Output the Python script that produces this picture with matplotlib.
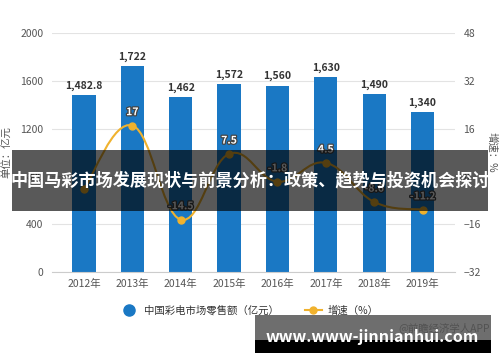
import numpy as np
import matplotlib
matplotlib.use('Agg')
import matplotlib.pyplot as plt
import matplotlib.patheffects as pe
from matplotlib.path import Path
from matplotlib.patches import PathPatch, Rectangle
from matplotlib.lines import Line2D

plt.rcParams['font.family'] = ['Noto Sans CJK SC', 'DejaVu Sans']

years = ['2012年', '2013年', '2014年', '2015年', '2016年', '2017年', '2018年', '2019年']
sales = [1482.8, 1722, 1462, 1572, 1560, 1630, 1490, 1340]
sales_labels = ['1,482.8', '1,722', '1,462', '1,572', '1,560', '1,630', '1,490', '1,340']
growth = [-4.3, 17, -14.5, 7.5, -1.8, 4.5, -8.6, -11.2]
growth_labels = ['', '17', '-14.5', '7.5', '-1.8', '4.5', '-8.6', '-11.2']

bar_color = '#1a78c4'
line_color = '#f0b22e'
tick_color = '#555555'


def smooth_path(xs, ys, k=0.2):
  # cubic bezier segments through the points
  verts = [(xs[0], ys[0])]
  codes = [Path.MOVETO]
  n = len(xs)
  for i in range(n - 1):
    p0 = (xs[max(i - 1, 0)], ys[max(i - 1, 0)])
    p1 = (xs[i], ys[i])
    p2 = (xs[i + 1], ys[i + 1])
    p3 = (xs[min(i + 2, n - 1)], ys[min(i + 2, n - 1)])
    c1 = (p1[0] + (p2[0] - p0[0]) * k, p1[1] + (p2[1] - p0[1]) * k)
    c2 = (p2[0] - (p3[0] - p1[0]) * k, p2[1] - (p3[1] - p1[1]) * k)
    verts += [c1, c2, p2]
    codes += [Path.CURVE4] * 3
  return Path(verts, codes)


fig = plt.figure(figsize=(5, 3.62), dpi=100)
ax = fig.add_axes([0.104, 0.249, 0.806, 0.66])
ax2 = ax.twinx()

x = np.arange(len(years))
ax.bar(x, sales, width=0.48, color=bar_color, zorder=2)
for xi, v, s in zip(x, sales, sales_labels):
  ax.annotate(s, (xi, v), xytext=(0, 3), textcoords='offset points',
              ha='center', va='bottom', fontsize=7.5, fontweight='bold',
              color='#333333')

ax.set_ylim(0, 2000)
ax.set_yticks(range(0, 2001, 400))
ax.set_xlim(-0.66, 7.67)
ax.set_xticks(x)
ax.set_xticklabels(years)
ax.grid(axis='y', color='#e3e3e3', linewidth=0.8, zorder=0)
ax.set_axisbelow(True)
for sp in ['top', 'left', 'right']:
  ax.spines[sp].set_visible(False)
ax.spines['bottom'].set_color('#cccccc')
ax.tick_params(axis='y', length=0, labelsize=7.5, labelcolor=tick_color, pad=6)
ax.tick_params(axis='x', length=0, labelsize=7.5, labelcolor=tick_color, pad=5)
ax.set_ylabel('单位：亿元', fontsize=7.5, color=tick_color, labelpad=6)

ax2.set_ylim(-32, 48)
ax2.set_yticks(range(-32, 49, 16))
for sp in ['top', 'left', 'right', 'bottom']:
  ax2.spines[sp].set_visible(False)
ax2.tick_params(axis='y', length=0, labelsize=7.5, labelcolor=tick_color, pad=6)
ax2.set_ylabel('增速：%', fontsize=7.5, color=tick_color, rotation=270, labelpad=12)

ax2.add_patch(PathPatch(smooth_path(x, growth), fill=False, edgecolor=line_color,
                        linewidth=1.5, zorder=3))
ax2.plot(x, growth, 'o', color=line_color, markersize=5, zorder=4)
for xi, v, s in zip(x, growth, growth_labels):
  if s:
    ax2.annotate(s, (xi, v), xytext=(0, 6), textcoords='offset points',
                 ha='center', va='bottom', fontsize=7.5, fontweight='bold',
                 color='white',
                 path_effects=[pe.withStroke(linewidth=1.8, foreground='#444444')])

handles = [
  Line2D([], [], marker='o', linestyle='none', color=bar_color, markersize=8),
  Line2D([], [], marker='o', color=line_color, markersize=5, linewidth=1.5),
]
fig.legend(handles, ['中国彩电市场零售额（亿元）', '增速（%）'], loc='center',
           bbox_to_anchor=(0.5, 0.141), ncol=2, frameon=False, fontsize=7.5,
           labelcolor='#333333', handlelength=1.6, columnspacing=2.5,
           handletextpad=0.6)

# title banner
fig.patches.append(Rectangle((0.024, 0.417), 0.952, 0.169, transform=fig.transFigure,
                             facecolor='black', alpha=0.65, zorder=5))
fig.text(0.5, 0.502, '中国马彩市场发展现状与前景分析：政策、趋势与投资机会探讨',
         ha='center', va='center', fontsize=12.3, fontweight='bold',
         color='white', zorder=6)

# bottom watermark
fig.text(0.98, 0.094, '@前瞻经济学人APP', ha='right', va='center', fontsize=7.5,
         color='#444444', zorder=4)
fig.patches.append(Rectangle((0.51, 0.061), 0.472, 0.069, transform=fig.transFigure,
                             facecolor='#555555', alpha=0.85, zorder=5))
fig.patches.append(Rectangle((0.51, 0.025), 0.472, 0.036, transform=fig.transFigure,
                             facecolor='black', zorder=5))
fig.text(0.745, 0.069, 'www.www-jinnianhui.com', ha='center', va='center',
         fontsize=11.5, fontweight='bold', color='white', zorder=6)

fig.savefig('out.png', dpi=100)
